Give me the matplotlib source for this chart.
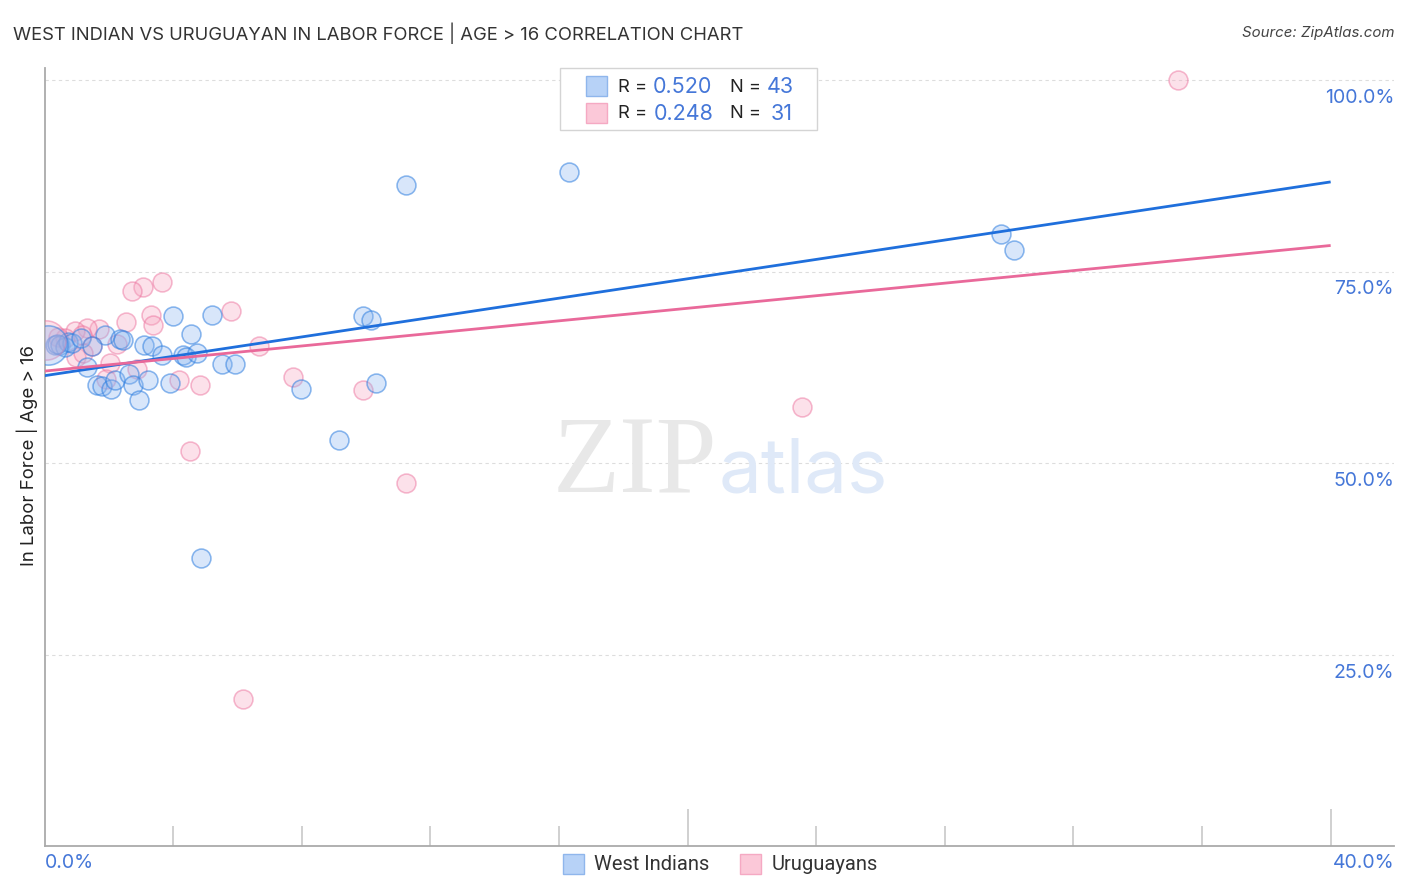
import numpy as np
import matplotlib
matplotlib.use("Agg")
import matplotlib.pyplot as plt
from matplotlib.colors import to_rgba
from matplotlib.patches import Rectangle

plt.rcParams['font.family'] = ['Inter', 'DejaVu Sans']

# values, x and y both in percent
blue_x = [11.24, 16.3, 29.75, 30.15, 4.0, 5.2, 4.55, 9.9, 10.15, 1.88, 2.35, 2.44, 3.1,
          3.35, 3.65, 4.3, 4.4, 4.75, 5.52, 5.93, 1.32, 1.63, 1.79, 2.07, 2.2, 2.63, 2.75,
          2.94, 3.22, 3.9, 7.98, 10.31, 9.16, 4.87, 0.33, 0.48, 0.64, 0.73, 0.86, 1.14, 1.48, 0.4]
blue_y = [86.3, 88.0, 79.9, 77.8, 69.2, 69.3, 66.8, 69.2, 68.7, 66.7, 66.2, 66.0, 65.4,
          65.3, 64.1, 64.1, 63.8, 64.3, 62.9, 62.9, 62.5, 60.2, 60.0, 59.6, 60.8, 61.6, 60.2,
          58.2, 60.9, 60.5, 59.6, 60.4, 53.0, 37.6, 65.4, 65.4, 65.2, 65.8, 65.7, 66.3, 65.3, 65.6]
blue_big = (0.1, 65.4)

pink_x = [35.24, 23.56, 3.65, 3.06, 2.72, 5.8, 3.31, 3.37, 2.53, 6.67, 1.7, 1.32, 0.95,
          2.26, 1.48, 0.64, 0.42, 1.17, 2.04, 2.88, 0.98, 1.2, 1.91, 4.18, 4.84, 7.73, 9.91,
          4.53, 11.24, 6.17]
pink_y = [100.0, 57.3, 73.6, 73.0, 72.4, 69.8, 69.3, 68.0, 68.4, 65.3, 67.5, 67.6, 67.2,
          65.5, 65.3, 66.3, 66.4, 66.7, 63.0, 62.3, 63.8, 64.3, 61.0, 60.8, 60.2, 61.2, 59.5,
          51.6, 47.4, 19.2]
pink_big = (0.05, 66.0)

# regression lines, x range and fitted values at the ends
line_x = [0.0, 40.0]
blue_line = [61.4, 86.7]
pink_line = [62.0, 78.4]

y_ticks = [25, 50, 75, 100]
y_labels = ['25.0%', '50.0%', '75.0%', '100.0%']
x_major = [20, 40]
x_minor = [4, 8, 12, 16, 24, 28, 32, 36]

BLUE = '#2f7fe0'
PINK = '#ec6f9c'
TEXT_BLUE = '#4577d8'

blue_face = to_rgba('#8ab6f0', 0.33)
blue_edge = to_rgba(BLUE, 0.55)
pink_face = to_rgba('#f7a6c0', 0.33)
pink_edge = to_rgba(PINK, 0.48)

W, H = 1406, 892
fig = plt.figure(figsize=(W / 100, H / 100), dpi=100)
# axes box goes from x=0 to x=41.97, y=0 to y=101.6
ax = fig.add_axes([44.5 / W, 1 - 846 / H, (1394 - 44.5) / W, (846 - 68) / H])
ax.set_xlim(0, 41.97)
ax.set_ylim(0, 101.57)

for s in ['top', 'right']:
    ax.spines[s].set_visible(False)
for s in ['left', 'bottom']:
    ax.spines[s].set_color('#aaaaaa')
    ax.spines[s].set_linewidth(1.3)

for t in y_ticks:
    ax.axhline(t, color='#dddddd', lw=0.8, ls=(0, (3, 3)), zorder=0)

ax.set_xticks(x_major)
ax.set_xticks(x_minor, minor=True)
ax.set_xticklabels([])
ax.tick_params(axis='x', which='major', direction='in', length=27, width=1.1, color='#c4c4c4')
ax.tick_params(axis='x', which='minor', direction='in', length=14.4, width=1.1, color='#c4c4c4')
ax.set_yticks([])

# watermark
ax.text(635 / W, 1 - 492 / H, 'ZIP', transform=fig.transFigure, family='Liberation Serif', fontsize=79,
        color='#e8e8e8', ha='center', va='baseline', zorder=0)
ax.text(803 / W, 1 - 492 / H, 'atlas', transform=fig.transFigure, family='Inter', fontsize=55,
        color='#dfe9f8', ha='center', va='baseline', zorder=0)

ax.scatter(pink_x, pink_y, s=185, facecolor=pink_face, edgecolor=pink_edge, lw=1.15, zorder=3)
ax.scatter(blue_x, blue_y, s=185, facecolor=blue_face, edgecolor=blue_edge, lw=1.15, zorder=3)
ax.scatter(*pink_big, s=800, facecolor=[pink_face], edgecolor=[pink_edge], lw=1.15, zorder=3)
ax.scatter(*blue_big, s=800, facecolor=[blue_face], edgecolor=[blue_edge], lw=1.15, zorder=3)

ax.plot(line_x, blue_line, color='#1f6fdc', lw=2.0, zorder=4, solid_capstyle='butt')
ax.plot(line_x, pink_line, color='#e9699a', lw=2.0, zorder=4, solid_capstyle='butt')


def px(x, y, s, **kw):
    fig.text(x / W, 1 - y / H, s, **kw)


def box(x, y, w, h, **kw):
    fig.add_artist(Rectangle((x / W, 1 - (y + h) / H), w / W, h / H, transform=fig.transFigure, **kw))


px(13, 33, 'WEST INDIAN VS URUGUAYAN IN LABOR FORCE | AGE > 16 CORRELATION CHART',
   fontsize=13.25, color='#333333', va='center')
px(1394, 33, 'Source: ZipAtlas.com', fontsize=10.8, color='#444444', va='center', ha='right', style='italic')
px(27, 456, 'In Labor Force | Age > 16', fontsize=13.4, color='#222222', rotation=90, va='center', ha='center')

for t, lab in zip(y_ticks, y_labels):
    px(1394, 846 - t * 7.66 + 18, lab, fontsize=14, color=TEXT_BLUE, ha='right', va='center')
px(45, 863, '0.0%', fontsize=14, color=TEXT_BLUE, va='center')
px(1394, 863, '40.0%', fontsize=14, color=TEXT_BLUE, va='center', ha='right')

# correlation box
box(560, 68, 257, 62, facecolor='white', edgecolor='#d4d4d4', lw=1, zorder=5)
box(586, 76, 21, 20, facecolor='#b7d2f7', edgecolor='#8fb6ec', lw=1, zorder=6)
box(586, 103, 21, 20, facecolor='#fbc8d8', edgecolor='#f5a9c3', lw=1, zorder=6)
for yy, r, n, rx, nx in [(87, '0.520', '43', 653, 767), (114, '0.248', '31', 654, 771)]:
    px(618, yy, 'R =', fontsize=13.2, color='#222222', va='center', zorder=7)
    px(rx, yy, r, fontsize=15.5, color=TEXT_BLUE, va='center', zorder=7)
    px(730, yy, 'N =', fontsize=13.2, color='#222222', va='center', zorder=7)
    px(nx, yy, n, fontsize=15.5, color=TEXT_BLUE, va='center', zorder=7)

# bottom legend
box(563, 854, 21, 20, facecolor='#b7d2f7', edgecolor='#8fb6ec', lw=1)
px(594, 864, 'West Indians', fontsize=14.5, color='#333333', va='center', family='Roboto')
box(740, 854, 21, 20, facecolor='#fbc8d8', edgecolor='#f5a9c3', lw=1)
px(772, 864, 'Uruguayans', fontsize=14.5, color='#333333', va='center', family='Roboto')

fig.savefig('out.png', dpi=100)
